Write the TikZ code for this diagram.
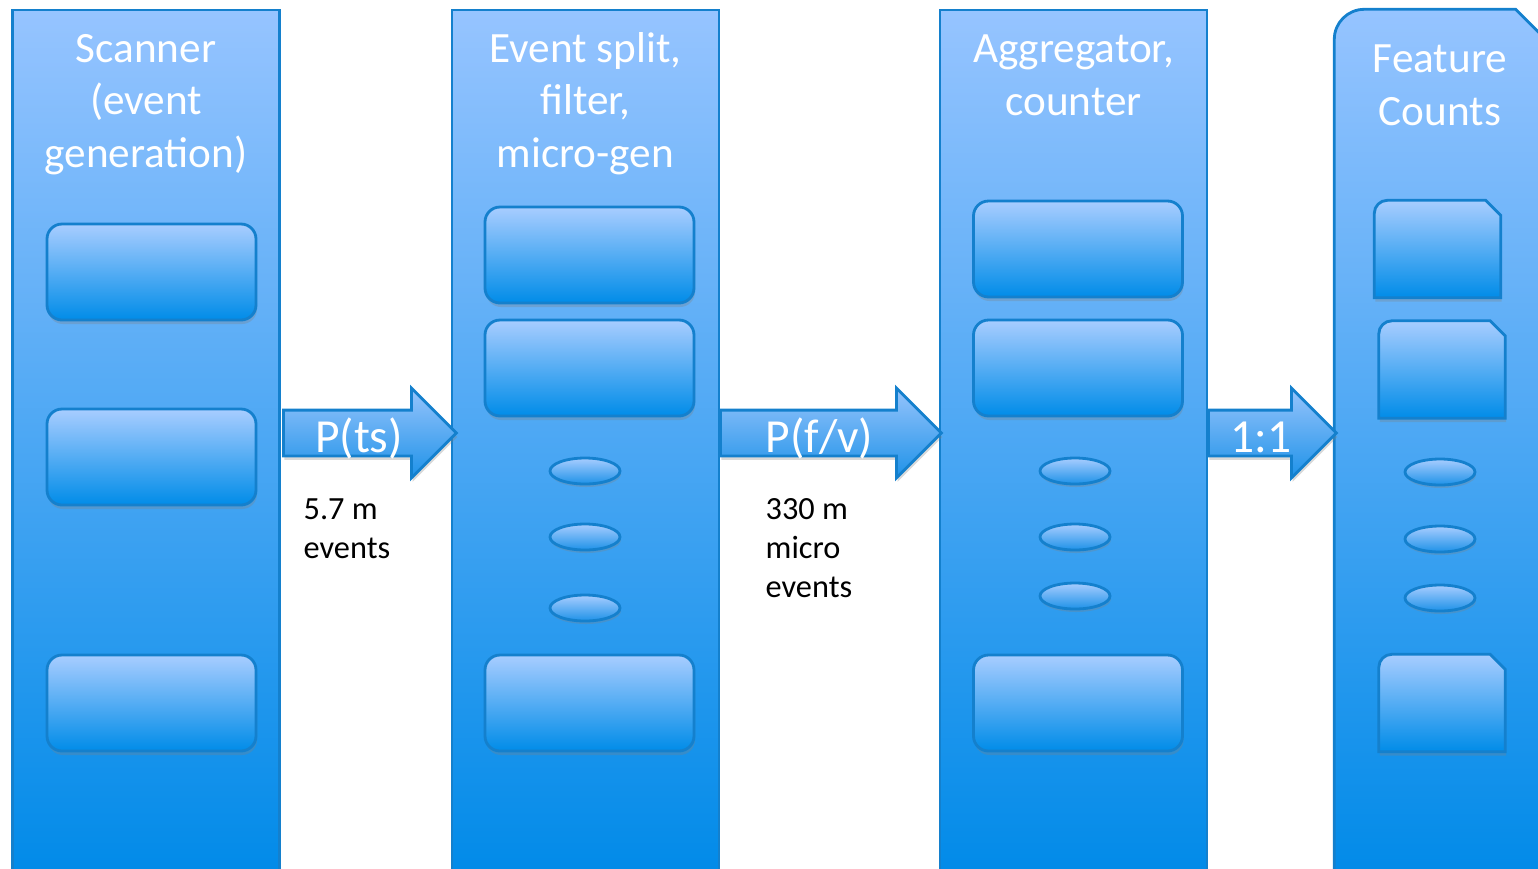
\documentclass[tikz,border=0pt]{standalone}
\usepackage{fontspec}
\setmainfont{Carlito}
\usetikzlibrary{shapes.geometric,shapes.arrows,shadows,positioning}

\definecolor{paneltop}{RGB}{150,196,255}
\definecolor{panelbot}{RGB}{0,138,232}
\definecolor{paneledge}{RGB}{20,128,205}
\definecolor{cardtop}{RGB}{168,205,255}
\definecolor{cardbot}{RGB}{0,140,232}
\definecolor{flowtop}{RGB}{150,196,252}
\definecolor{flowbot}{RGB}{30,146,232}

\begin{document}
\begin{tikzpicture}[
    panel/.style={draw=paneledge, line width=0.8pt, top color=paneltop, bottom color=panelbot, minimum width=2.67cm, minimum height=8.70cm, inner sep=0pt, drop shadow={shadow xshift=0cm, shadow yshift=-0.02cm, opacity=0.25}},
    panelbare/.style={minimum width=2.25cm, minimum height=8.70cm, inner sep=0pt},
    panelfill/.style={draw=paneledge, line width=0.8pt, top color=paneltop, bottom color=panelbot, drop shadow={shadow xshift=0cm, shadow yshift=-0.02cm, opacity=0.25}},
    card/.style={draw=paneledge, line width=0.8pt, rounded corners=0.15cm, top color=cardtop, bottom color=cardbot, minimum width=2.09cm, minimum height=0.96cm, inner sep=0pt, drop shadow={shadow xshift=0.01cm, shadow yshift=-0.04cm, opacity=0.3}},
    tab/.style={minimum width=1.25cm, minimum height=0.96cm, inner sep=0pt},
    tabfill/.style={draw=paneledge, line width=0.8pt, top color=cardtop, bottom color=cardbot, drop shadow={shadow xshift=0.01cm, shadow yshift=-0.04cm, opacity=0.3}},
    dot/.style={ellipse, draw=paneledge, line width=0.8pt, top color=cardtop, bottom color=flowbot, minimum width=0.70cm, minimum height=0.26cm, inner sep=0pt, drop shadow={shadow xshift=0.01cm, shadow yshift=-0.03cm, opacity=0.3}},
    flow/.style={single arrow, draw=paneledge, line width=0.8pt, top color=flowtop, bottom color=flowbot, inner sep=0.215cm, single arrow head extend=0.22cm, anchor=tail, drop shadow={shadow xshift=0.01cm, shadow yshift=-0.04cm, opacity=0.3}},
    title/.style={text=white, font=\fontsize{12.3}{14.8}\selectfont, align=center, anchor=base, inner sep=0pt},
    flowlbl/.style={text=white, font=\fontsize{13.5}{16}\selectfont, anchor=base, inner sep=0pt},
    note/.style={font=\fontsize{9.2}{11}\selectfont, align=left, anchor=base west, inner sep=0pt}
]
\useasboundingbox (0,0) rectangle (15.38,-8.68);
\clip (0,0) rectangle (15.38,-8.68);

% stages
\node[panel] (scan) at (1.46,-4.45) {};
\node[panel] (split) at (5.855,-4.45) {};
\node[panel] (agg) at (10.735,-4.45) {};
\node[panelbare] (counts) at (14.475,-4.45) {};
\path[panelfill] (counts.west) [rounded corners=0.3cm] -- (counts.north west) [sharp corners] -- ([xshift=-0.45cm]counts.north east) -- ([yshift=-0.45cm]counts.north east) -- (counts.south east) -- (counts.south west) -- cycle;

% titles, placed by the baseline of their last line
\node[title] (scant) at (1.46,-1.67) {Scanner\\(event\\generation)};
\node[title] (splitt) at (5.855,-1.67) {Event split,\\filter,\\micro-gen};
\node[title] (aggt) at (10.735,-1.15) {Aggregator,\\counter};
\node[title] (countst) at (14.40,-1.25) {Feature\\Counts};

% flows between stages
\node[flow, minimum height=1.73cm] (pts) at (2.82,-4.33) {};
\node[flow, minimum height=2.21cm] (pfv) at (7.19,-4.33) {};
\node[flow, minimum height=1.28cm] (one) at (12.07,-4.33) {};
\node[flowlbl] (ptsl) at (3.59,-4.52) {P(ts)};
\node[flowlbl] (pfvl) at (8.195,-4.52) {P(f/v)};
\node[flowlbl] (onel) at (12.61,-4.52) {1:1};
\node[note] (ptsn) at (3.03,-5.58) {5.7 m\\events};
\node[note] (pfvn) at (7.65,-5.97) {330 m\\micro\\events};

% scanner
\node[card] (s1) at (1.515,-2.72) {};
\node[card] (s2) at (1.515,-4.57) {};
\node[card] (s3) at (1.515,-7.03) {};

% split
\node[card] (e1) at (5.895,-2.55) {};
\node[card] (e2) at (5.895,-3.68) {};
\node[dot] (e3) at (5.85,-4.71) {};
\node[dot] (e4) at (5.85,-5.37) {};
\node[dot] (e5) at (5.85,-6.08) {};
\node[card] (e6) at (5.895,-7.03) {};

% aggregator
\node[card] (a1) at (10.78,-2.49) {};
\node[card] (a2) at (10.78,-3.68) {};
\node[dot] (a3) at (10.75,-4.71) {};
\node[dot] (a4) at (10.75,-5.37) {};
\node[dot] (a5) at (10.75,-5.96) {};
\node[card] (a6) at (10.78,-7.03) {};

% counts
\node[tab] (c1) at (14.375,-2.49) {};
\node[tab] (c2) at (14.42,-3.695) {};
\node[dot] (c3) at (14.40,-4.72) {};
\node[dot] (c4) at (14.40,-5.39) {};
\node[dot] (c5) at (14.40,-5.98) {};
\node[tab] (c6) at (14.42,-7.03) {};
\foreach \t in {c1,c2,c6}
  \path[tabfill] (\t.west) [rounded corners=0.13cm] -- (\t.north west) [sharp corners] -- ([xshift=-0.15cm]\t.north east) -- ([yshift=-0.15cm]\t.north east) -- (\t.south east) -- (\t.south west) -- cycle;
\end{tikzpicture}
\end{document}
